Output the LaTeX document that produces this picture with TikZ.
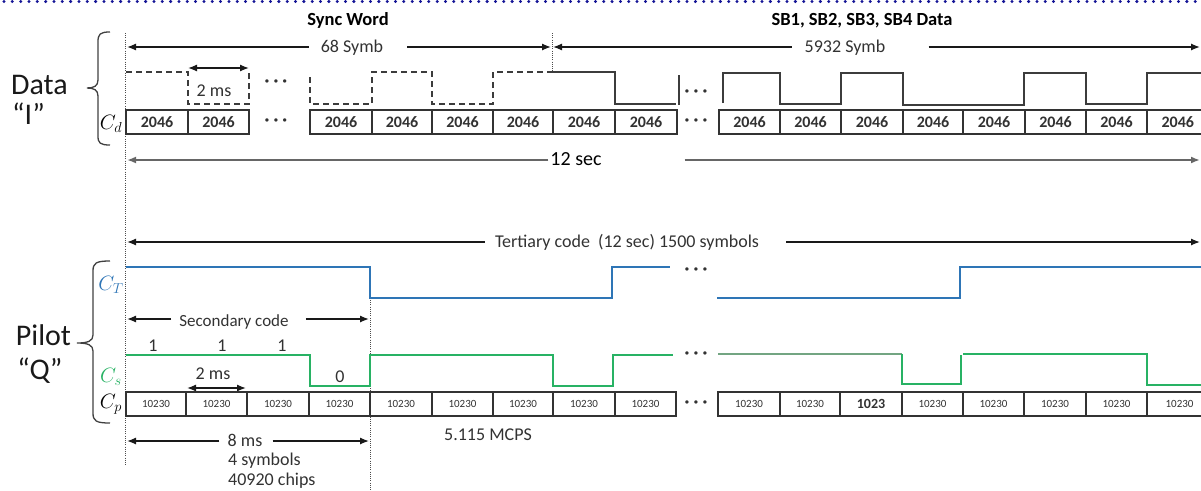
\documentclass[tikz,border=0pt]{standalone}
\usepackage{fontspec}
\setmainfont{Carlito}
\usetikzlibrary{arrows.meta,calc}
\definecolor{dotblue}{RGB}{20,20,150}
\definecolor{ctblue}{RGB}{46,117,182}
\definecolor{csgreen}{RGB}{40,178,100}
\definecolor{csmuted}{RGB}{115,165,130}
\definecolor{txt}{RGB}{50,50,50}
\definecolor{wave}{RGB}{60,60,60}
\begin{document}
\begin{tikzpicture}[x=1pt,y=-1pt,
 lbl/.style={text=txt, font=\fontsize{18}{20}\selectfont, inner sep=0pt},
 dimarr/.style={draw=black!90, line width=1.3pt, -{Latex[length=9pt,width=7pt]}},
 dimboth/.style={draw=black!90, line width=1.3pt, {Latex[length=9pt,width=7pt]}-{Latex[length=9pt,width=7pt]}},
 dimgray/.style={draw=black!60, line width=1.8pt, -{Latex[length=9pt,width=7pt]}},
 vdot/.style={draw=black!70, line width=0.9pt, dash pattern=on 1pt off 1.2pt},
 dcell/.style={draw=black!80, line width=1.2pt, minimum height=24pt, inner sep=0pt, font=\bfseries\fontsize{16}{16}\selectfont, text=txt},
 pcell/.style={draw=black!80, line width=1.2pt, minimum height=24pt, inner sep=0pt, font=\fontsize{11}{11}\selectfont, text=txt},
 dwave/.style={draw=wave, line width=1.2pt, dash pattern=on 6pt off 4pt},
 swave/.style={draw=wave, line width=1.3pt},
 twave/.style={draw=ctblue, line width=1.8pt},
 gwave/.style={draw=csgreen, line width=1.8pt},
 ellip/.style={font=\bfseries\fontsize{18}{18}\selectfont, text=txt, inner sep=0pt},
 clab/.style={font=\fontsize{20.74}{21}\selectfont, inner sep=0pt, anchor=base},
 bracestyle/.style={draw=black!75, line width=1.3pt},
 bigtxt/.style={font=\fontsize{30}{30}\selectfont, text=black!90, inner sep=0pt, anchor=base},
]
\useasboundingbox (0,0) rectangle (1201,490);

% top dotted border
\draw[dotblue, line width=3.3pt, line cap=round, dash pattern=on 0pt off 8.33pt] (4,1.5) -- (1201,1.5);

% headers
\node[font=\bfseries\fontsize{18.5}{20}\selectfont, inner sep=0pt, anchor=base] (sync) at (348,25) {Sync Word};
\node[font=\bfseries\fontsize{18.5}{20}\selectfont, inner sep=0pt, anchor=base] (sbdata) at (862,25) {SB1, SB2, SB3, SB4 Data};

% dotted verticals
\coordinate (v1t) at (125.5,33); \coordinate (v1b) at (125.5,465);
\draw[vdot] (v1t) -- (v1b);
\coordinate (v2t) at (370,267); \coordinate (v2b) at (370,490);
\draw[vdot] (v2t) -- (v2b);
\coordinate (v3t) at (552,33); \coordinate (v3b) at (552,72);
\draw[vdot] (v3t) -- (v3b);

% Data / Pilot labels and braces
\node[bigtxt] (data) at (39.5,94) {Data};
\node[bigtxt] (dataI) at (28.5,124) {“I”};
\node[bigtxt] (pilot) at (43.5,345) {Pilot};
\node[bigtxt] (pilotQ) at (40,379) {“Q”};
\draw[bracestyle] (110,32) .. controls (100,32) and (98,34) .. (98,42) -- (98,80) .. controls (98,86) and (94,88) .. (87,88) .. controls (94,88) and (98,90) .. (98,96) -- (98,136) .. controls (98,143) and (100,145) .. (110,145);
\draw[bracestyle] (110,261) .. controls (96,261) and (93,263) .. (93,271) -- (93,335) .. controls (93,341) and (88,343) .. (77,343) .. controls (88,343) and (93,345) .. (93,351) -- (93,413) .. controls (93,421) and (96,423) .. (110,423);

% row labels
\node[clab] (cd) at (111,129) {$C_d$};
\node[clab, text=ctblue] (ct) at (111,290) {$C_T$};
\node[clab, text=csgreen] (cs) at (111,382) {$C_s$};
\node[clab] (cp) at (111,408) {$C_p$};

% ---------- Data dimension arrows ----------
\coordinate (a68L) at (127,47); \coordinate (a68R) at (551,47);
\coordinate (a59L) at (553,47); \coordinate (a59R) at (1200,47);
\node[lbl, anchor=base] (t68) at (352,52) {68 Symb};
\draw[dimarr] ($(t68.west |- a68L)+(-12,0)$) -- (a68L);
\draw[dimarr] ($(t68.east |- a68R)+(24,0)$) -- (a68R);
\node[lbl, anchor=base] (t5932) at (845,52) {5932 Symb};
\draw[dimarr] ($(t5932.west |- a59L)+(-13,0)$) -- (a59L);
\draw[dimarr] ($(t5932.east |- a59R)+(43,0)$) -- (a59R);

% data waveform
\draw[dwave] (126,72) -- (188,72) -- (188,104) -- (249,104) -- (249,72);
\draw[dwave] (310,77) -- (310,104) -- (372,104) -- (372,72) -- (432,72) -- (432,104) -- (493,104) -- (493,72) -- (552,72);
\draw[swave] (552,72) -- (615,72) -- (615,104) -- (676,104);
\draw[swave] (679,75) -- (679,105);
\draw[swave] (723,103) -- (723,73) -- (780,73) -- (780,104) -- (841,104) -- (841,73) -- (903,73) -- (903,105) -- (1024,105) -- (1024,73) -- (1086,73) -- (1086,104) -- (1147,104) -- (1147,73) -- (1203,73);
\node[ellip] (de1) at (276,83) {· · ·};
\node[ellip] (de2) at (696,93) {· · ·};

% 2 ms (data)
\coordinate (d2L) at (188,68); \coordinate (d2R) at (249,68);
\draw[dimboth] (d2L) -- (d2R);
\node[lbl, anchor=base] (d2ms) at (214,96) {2 ms};

% data cells
\foreach \a/\b [count=\i] in {126/188,188/249}
  \node[dcell, minimum width=\b-\a] (dA\i) at ({(\a+\b)/2},122) {2046};
\foreach \a/\b [count=\i] in {310/372,372/432,432/493,493/553,553/615,615/677}
  \node[dcell, minimum width=\b-\a] (dB\i) at ({(\a+\b)/2},122) {2046};
\foreach \a/\b [count=\i] in {719/780,780/841,841/903,903/963,963/1025,1025/1086,1086/1147}
  \node[dcell, minimum width=\b-\a] (dC\i) at ({(\a+\b)/2},122) {2046};
\node[dcell, minimum width=56, anchor=west, text width=54, align=left] (dC8) at (1147,122) {\hspace{13pt}2046};
\node[ellip] (de3) at (276,122) {· · ·};
\node[ellip] (de4) at (696,122) {· · ·};

% 12 sec
\coordinate (s12L) at (127,160); \coordinate (s12R) at (1200,160);
\node[font=\fontsize{20}{20}\selectfont, inner sep=0pt, anchor=base] (t12) at (576,165) {12 sec};
\draw[dimgray] ($(t12.west |- s12L)+(-2,0)$) -- (s12L);
\draw[dimgray] ($(t12.east |- s12R)+(83,0)$) -- (s12R);

% ---------- Pilot ----------
\coordinate (terL) at (127,242); \coordinate (terR) at (1200,242);
\node[lbl, anchor=base] (tert) at (627,247) {Tertiary code~ (12 sec) 1500 symbols};
\draw[dimarr] ($(tert.west |- terL)+(-10,0)$) -- (terL);
\draw[dimarr] ($(tert.east |- terR)+(27,0)$) -- (terR);

% C_T waveform
\draw[twave] (126,267) -- (370,267) -- (370,298) -- (612,298) -- (612,267) -- (670,267);
\draw[twave] (717,298) -- (960,298) -- (960,267) -- (1203,267);
\node[ellip] (te) at (696,271) {· · ·};

% Secondary code
\coordinate (secL) at (127,319); \coordinate (secR) at (369,319);
\node[text=txt, font=\fontsize{17}{18}\selectfont, inner sep=0pt, anchor=base] (sec) at (234,326) {Secondary code};
\draw[dimarr] ($(sec.west |- secL)+(-8,0)$) -- (secL);
\draw[dimarr] ($(sec.east |- secR)+(17,0)$) -- (secR);

% bits
\node[lbl, anchor=base] (b1) at (153,351) {1};
\node[lbl, anchor=base] (b2) at (222,351) {1};
\node[lbl, anchor=base] (b3) at (282,351) {1};
\node[lbl, anchor=base] (b4) at (340,382) {0};

% C_s waveform
\draw[gwave] (126,355) -- (310,355) -- (310,386) -- (370,386) -- (370,355) -- (553,355) -- (553,386) -- (613,386) -- (613,355) -- (673,355);
\draw[draw=csmuted, line width=1.8pt] (718,354) -- (902,354);
\draw[gwave] (902,354) -- (902,384) -- (961,384) -- (961,355);
\draw[gwave] (963,354) -- (1147,354) -- (1147,385) -- (1203,385);
\node[ellip] (se) at (696,355) {· · ·};

% 2 ms (pilot)
\coordinate (p2L) at (187,388); \coordinate (p2R) at (246,388);
\draw[dimboth] (p2L) -- (p2R);
\node[lbl, anchor=base] (p2ms) at (213,379) {2 ms};

% pilot cells
\foreach \a/\b [count=\i] in {126/186,186/247,247/309,309/370,370/432,432/493,493/553,553/615,615/676}
  \node[pcell, minimum width=\b-\a] (pA\i) at ({(\a+\b)/2},404) {10230};
\foreach \a/\b [count=\i] in {718/780,780/840}
  \node[pcell, minimum width=\b-\a] (pB\i) at ({(\a+\b)/2},404) {10230};
\node[pcell, minimum width=62, font=\bfseries\fontsize{14}{14}\selectfont] (pB3) at (871,404) {1023};
\foreach \a/\b [count=\i from 4] in {902/963,963/1024,1024/1086,1086/1147}
  \node[pcell, minimum width=\b-\a] (pB\i) at ({(\a+\b)/2},404) {10230};
\node[pcell, minimum width=56, anchor=west, text width=54, align=left] (pB8) at (1147,404) {\hspace{17pt}10230};
\node[ellip] (pe) at (696,404) {· · ·};

% 8 ms
\coordinate (m8L) at (127,441); \coordinate (m8R) at (369,441);
\node[lbl, anchor=base] (t8) at (245,446) {8 ms};
\draw[dimarr] ($(t8.west |- m8L)+(-8,0)$) -- (m8L);
\draw[dimarr] ($(t8.east |- m8R)+(10,0)$) -- (m8R);
\node[lbl, anchor=base west] (t4s) at (228,465) {4 symbols};
\node[lbl, anchor=base west] (t409) at (228,485) {40920 chips};
\node[lbl, anchor=base] (mcps) at (488,440) {5.115 MCPS};
\end{tikzpicture}
\end{document}
